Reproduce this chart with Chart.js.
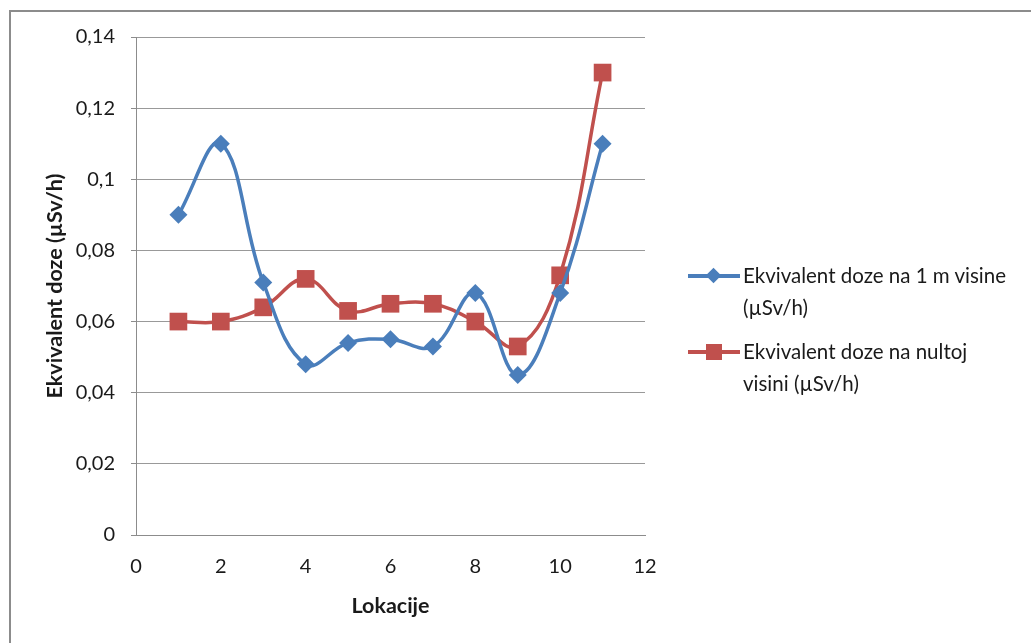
<!DOCTYPE html>
<html>
<head>
<meta charset="utf-8">
<script src="https://cdn.jsdelivr.net/npm/chart.js@4/dist/chart.umd.min.js"></script>
<style>
html,body{margin:0;padding:0;background:#fff;overflow:hidden;}
#frame{position:absolute;left:9px;top:10px;width:1100px;height:700px;border-top:2px solid #8c8c8c;border-left:2px solid #8c8c8c;box-sizing:border-box;}
#wrap{position:absolute;left:0;top:0;width:1031px;height:643px;}
#legend{position:absolute;left:688px;top:259px;font-family:Lato,"Open Sans",sans-serif;font-size:20.5px;color:#1a1a1a;}
.item{position:relative;padding-left:55px;line-height:32px;margin-bottom:12px;width:300px;}
.mk{position:absolute;left:0;top:15px;width:52px;height:4px;}
.sym{position:absolute;}
</style>
</head>
<body>
<div id="frame"></div>
<div id="wrap"><canvas id="c" width="1031" height="643"></canvas></div>
<div id="legend"></div>
<script>
// Data
const locations = [1, 2, 3, 4, 5, 6, 7, 8, 9, 10, 11];
const doseAt1m = [0.090, 0.110, 0.071, 0.048, 0.054, 0.055, 0.053, 0.068, 0.045, 0.068, 0.110];
const doseAtGround = [0.060, 0.060, 0.064, 0.072, 0.063, 0.065, 0.065, 0.060, 0.053, 0.073, 0.130];
const seriesNames = ['Ekvivalent doze na 1 m visine (µSv/h)', 'Ekvivalent doze na nultoj visini (µSv/h)'];
const legendLines = [['Ekvivalent doze na 1 m visine', '(µSv/h)'], ['Ekvivalent doze na nultoj', 'visini (µSv/h)']];
const xTitle = 'Lokacije';
const yTitle = 'Ekvivalent doze (µSv/h)';
const xMin = 0, xMax = 12, xStep = 2;
const yMin = 0, yMax = 0.14, yStep = 0.02;

const blue = '#4A7EBB';
const red = '#C0504D';
const FONT = 'Lato, "Open Sans", sans-serif';

function pts(vals) { return locations.map((x, i) => ({x: x, y: vals[i]})); }
function fmt(v) { return String(Math.round(v * 1000) / 1000).replace('.', ','); }

const chart = new Chart(document.getElementById('c'), {
  type: 'scatter',
  data: {
    datasets: [
      {label: seriesNames[0], data: pts(doseAt1m), showLine: true, borderColor: blue, backgroundColor: blue,
       borderWidth: 3.5, tension: 0.4, pointStyle: 'rectRot', pointRadius: 9, pointHoverRadius: 9, pointBorderWidth: 0},
      {label: seriesNames[1], data: pts(doseAtGround), showLine: true, borderColor: red, backgroundColor: red,
       borderWidth: 3.5, tension: 0.4, pointStyle: 'rect', pointRadius: 12.5, pointHoverRadius: 12.5, pointBorderWidth: 0}
    ]
  },
  options: {
    responsive: false,
    animation: false,
    events: [],
    layout: {padding: {left: 38, top: 37, right: 386, bottom: 20}},
    plugins: {legend: {display: false}, tooltip: {enabled: false}},
    scales: {
      x: {
        type: 'linear', min: xMin, max: xMax,
        afterFit: s => { s.height = 88; },
        grid: {display: false},
        border: {display: true, color: '#8c8c8c', width: 1},
        ticks: {stepSize: xStep, color: '#1a1a1a', font: {family: FONT, size: 20}, padding: 12, maxRotation: 0},
        title: {display: true, text: xTitle, color: '#1a1a1a', font: {family: FONT, size: 21.5, weight: 'bold'}, padding: {top: 4, bottom: 4}}
      },
      y: {
        min: yMin, max: yMax,
        afterFit: s => { s.width = 98; },
        grid: {color: '#999999', lineWidth: 1, drawTicks: true, tickLength: 5, tickColor: '#8c8c8c'},
        border: {display: true, color: '#8c8c8c', width: 1},
        ticks: {stepSize: yStep, color: '#1a1a1a', font: {family: FONT, size: 20}, padding: 16, callback: v => fmt(v)},
        title: {display: true, text: yTitle, color: '#1a1a1a', font: {family: FONT, size: 21.5, weight: 'bold'}, padding: {top: 4, bottom: 4}}
      }
    }
  }
});

// HTML legend built from the chart's datasets
const lg = document.getElementById('legend');
chart.data.datasets.forEach((ds, i) => {
  const it = document.createElement('div');
  it.className = 'item';
  const line = document.createElement('div');
  line.className = 'mk';
  line.style.background = ds.borderColor;
  const sym = document.createElement('div');
  sym.className = 'sym';
  sym.style.background = ds.backgroundColor;
  if (ds.pointStyle === 'rectRot') {
    sym.style.width = '11px'; sym.style.height = '11px';
    sym.style.left = '20px'; sym.style.top = '11px';
    sym.style.transform = 'rotate(45deg)';
  } else {
    sym.style.width = '16px'; sym.style.height = '16px';
    sym.style.left = '18px'; sym.style.top = '9px';
  }
  it.appendChild(line);
  it.appendChild(sym);
  legendLines[i].forEach(t => {
    const d = document.createElement('div');
    d.textContent = t;
    it.appendChild(d);
  });
  lg.appendChild(it);
});
</script>
</body>
</html>
